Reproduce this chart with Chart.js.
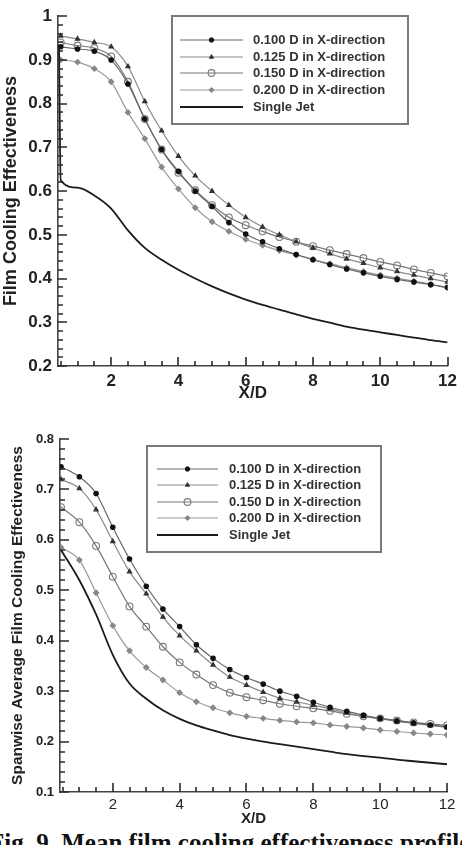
<!DOCTYPE html>
<html>
<head>
<meta charset="utf-8">
<script src="https://cdn.jsdelivr.net/npm/chart.js@4.4.0/dist/chart.umd.min.js"></script>
<style>
  html, body { margin: 0; padding: 0; background: #fff; }
  body { width: 462px; height: 845px; overflow: hidden; position: relative; }
  canvas { position: absolute; left: 0; }
  #topChart { top: 0; }
  #bottomChart { top: 425px; }
  .caption {
    position: absolute; left: -11px; top: 830px; white-space: nowrap;
    font: bold 25px "Liberation Serif", "Times New Roman", serif; line-height: 25px; color: #111;
  }
</style>
</head>
<body>
<canvas id="topChart" width="462" height="405"></canvas>
<canvas id="bottomChart" width="462" height="403"></canvas>
<div class="caption">Fig. 9. Mean film cooling effectiveness profiles</div>
<script>
// ---- data ----
const seriesLabels = ["0.100 D in X-direction", "0.125 D in X-direction", "0.150 D in X-direction", "0.200 D in X-direction", "Single Jet"];
const xTickLabels = [2, 4, 6, 8, 10, 12];
const yTicksTop = [0.2, 0.3, 0.4, 0.5, 0.6, 0.7, 0.8, 0.9, 1.0];
const yTicksBottom = [0.1, 0.2, 0.3, 0.4, 0.5, 0.6, 0.7, 0.8];

// top panel: film cooling effectiveness
const xTop = [0.5, 1, 1.5, 2, 2.5, 3, 3.5, 4, 4.5, 5, 5.5, 6, 6.5, 7, 7.5, 8, 8.5, 9, 9.5, 10, 10.5, 11, 11.5, 12];
const topD100 = [0.930, 0.925, 0.920, 0.900, 0.845, 0.765, 0.695, 0.645, 0.600, 0.565, 0.528, 0.502, 0.484, 0.468, 0.455, 0.443, 0.432, 0.422, 0.413, 0.405, 0.398, 0.392, 0.386, 0.380];
const topD125 = [0.955, 0.948, 0.940, 0.930, 0.885, 0.805, 0.738, 0.680, 0.635, 0.600, 0.568, 0.540, 0.518, 0.500, 0.484, 0.470, 0.457, 0.445, 0.435, 0.425, 0.416, 0.408, 0.400, 0.392];
const topD150 = [0.940, 0.933, 0.927, 0.908, 0.850, 0.765, 0.695, 0.642, 0.602, 0.568, 0.540, 0.522, 0.508, 0.495, 0.484, 0.474, 0.465, 0.456, 0.447, 0.438, 0.430, 0.421, 0.413, 0.405];
const topD200 = [0.900, 0.895, 0.880, 0.850, 0.780, 0.720, 0.655, 0.605, 0.562, 0.530, 0.508, 0.490, 0.476, 0.464, 0.454, 0.444, 0.434, 0.425, 0.416, 0.408, 0.401, 0.394, 0.387, 0.378];
const xTopJet = [0.45, 0.5, 1, 1.5, 2, 2.5, 3, 3.5, 4, 4.5, 5, 5.5, 6, 6.5, 7, 7.5, 8, 8.5, 9, 9.5, 10, 10.5, 11, 11.5, 12];
const topJet = [0.930, 0.625, 0.608, 0.590, 0.560, 0.510, 0.470, 0.443, 0.420, 0.400, 0.382, 0.366, 0.352, 0.340, 0.329, 0.318, 0.308, 0.299, 0.290, 0.283, 0.277, 0.271, 0.265, 0.259, 0.254];

// bottom panel: spanwise average
const xBottom = [0.45, 1, 1.5, 2, 2.5, 3, 3.5, 4, 4.5, 5, 5.5, 6, 6.5, 7, 7.5, 8, 8.5, 9, 9.5, 10, 10.5, 11, 11.5, 12];
const botD100 = [0.745, 0.725, 0.692, 0.625, 0.562, 0.508, 0.463, 0.428, 0.392, 0.365, 0.343, 0.327, 0.314, 0.300, 0.290, 0.278, 0.268, 0.260, 0.252, 0.246, 0.241, 0.237, 0.233, 0.229];
const botD125 = [0.720, 0.702, 0.660, 0.597, 0.537, 0.493, 0.447, 0.410, 0.380, 0.352, 0.328, 0.312, 0.298, 0.286, 0.279, 0.272, 0.265, 0.257, 0.250, 0.245, 0.240, 0.236, 0.232, 0.228];
const botD150 = [0.665, 0.635, 0.588, 0.527, 0.468, 0.428, 0.388, 0.357, 0.333, 0.312, 0.297, 0.288, 0.282, 0.275, 0.270, 0.266, 0.261, 0.255, 0.250, 0.246, 0.242, 0.238, 0.235, 0.232];
const botD200 = [0.585, 0.560, 0.495, 0.430, 0.380, 0.347, 0.322, 0.297, 0.279, 0.267, 0.257, 0.250, 0.246, 0.242, 0.239, 0.237, 0.233, 0.230, 0.227, 0.223, 0.220, 0.217, 0.215, 0.213];
const botJet = [0.580, 0.520, 0.452, 0.372, 0.315, 0.285, 0.262, 0.245, 0.232, 0.222, 0.213, 0.206, 0.200, 0.195, 0.190, 0.185, 0.180, 0.175, 0.171, 0.168, 0.164, 0.161, 0.158, 0.155];

const FONT = '"Liberation Sans", Arial, sans-serif';
const X_MINOR = 0.5, X_MAJOR = 2, Y_MINOR = 0.02, Y_MAJOR = 0.1;
const pts = (xs, ys) => xs.map((x, i) => ({ x: x, y: ys[i] }));

// series styles (line colour, marker)
const styles = [
  { borderColor: "#666", borderWidth: 1.2, pointStyle: "circle", pointRadius: 2.2, pointBackgroundColor: "#111", pointBorderColor: "#111" },
  { borderColor: "#8a8a8a", borderWidth: 1.2, pointStyle: "triangle", pointRadius: 2.4, pointBackgroundColor: "#333", pointBorderColor: "#333" },
  { borderColor: "#777", borderWidth: 1.2, pointStyle: "circle", pointRadius: 3.4, pointBackgroundColor: "rgba(255,255,255,0)", pointBorderColor: "#777", pointBorderWidth: 1.1 },
  { borderColor: "#9a9a9a", borderWidth: 1.2, pointStyle: "rectRot", pointRadius: 2.6, pointBackgroundColor: "#888", pointBorderColor: "#888" },
  { borderColor: "#1c1c1c", borderWidth: 1.8, pointStyle: "circle", pointRadius: 0, pointBackgroundColor: "#1c1c1c", pointBorderColor: "#1c1c1c" }
];

// tick marks pointing into the plot, major + minor
const inwardTicks = {
  id: "inwardTicks",
  afterDraw(chart) {
    const ctx = chart.ctx;
    const area = chart.chartArea;
    const x = chart.scales.x, y = chart.scales.y;
    ctx.save();
    ctx.strokeStyle = "#2a2a2a";
    ctx.lineWidth = 1.6;
    ctx.beginPath();
    for (let k = Math.ceil(x.min / X_MINOR); k * X_MINOR <= x.max + 1e-9; k++) {
      const v = k * X_MINOR;
      const px = Math.round(x.getPixelForValue(v));
      const major = Math.abs(v / X_MAJOR - Math.round(v / X_MAJOR)) < 1e-6;
      ctx.moveTo(px, area.bottom);
      ctx.lineTo(px, area.bottom - (major ? 9 : 5));
    }
    for (let k = Math.ceil(y.min / Y_MINOR - 1e-6); k * Y_MINOR <= y.max + 1e-9; k++) {
      const v = k * Y_MINOR;
      const py = Math.round(y.getPixelForValue(v));
      const major = Math.abs(v / Y_MAJOR - Math.round(v / Y_MAJOR)) < 1e-6;
      ctx.moveTo(area.left, py);
      ctx.lineTo(area.left + (major ? 9 : 5), py);
    }
    ctx.stroke();
    ctx.restore();
  }
};

const boxLegend = {
  id: "boxLegend",
  afterDraw(chart, args, o) {
    const { ctx } = chart;
    const [x0, y0, x1, y1] = o.box;
    ctx.save();
    ctx.strokeStyle = "#7a7a7a";
    ctx.lineWidth = 2;
    ctx.strokeRect(x0, y0, x1 - x0, y1 - y0);
    chart.data.datasets.forEach((ds, i) => {
      const ry = o.rowY[i];
      ctx.strokeStyle = ds.borderColor;
      ctx.lineWidth = ds.borderWidth;
      ctx.beginPath();
      ctx.moveTo(o.lineX[0], ry);
      ctx.lineTo(o.lineX[1], ry);
      ctx.stroke();
      if (ds.pointRadius > 0) {
        ctx.fillStyle = ds.pointBackgroundColor;
        ctx.strokeStyle = ds.pointBorderColor;
        ctx.lineWidth = ds.pointBorderWidth || 1;
        Chart.helpers.drawPoint(ctx, { pointStyle: ds.pointStyle, radius: ds.pointRadius, borderWidth: ds.pointBorderWidth || 1 }, (o.lineX[0] + o.lineX[1]) / 2, ry);
      }
      ctx.fillStyle = "#333";
      ctx.font = "bold 13px " + FONT;
      ctx.textBaseline = "middle";
      ctx.textAlign = "left";
      ctx.fillText(ds.label, o.textX, ry + 0.5);
    });
    ctx.restore();
  }
};

function makeChart(id, series, cfg) {
  const datasets = series.map((s, i) => Object.assign({
    label: seriesLabels[i],
    data: s,
    fill: false,
    cubicInterpolationMode: "monotone",
    order: i === 4 ? 0 : 1
  }, styles[i]));

  return new Chart(document.getElementById(id), {
    type: "line",
    data: { datasets: datasets },
    plugins: [inwardTicks, boxLegend],
    options: {
      responsive: false,
      devicePixelRatio: 1,
      animation: false,
      layout: { padding: { top: cfg.padTop, right: cfg.padRight, left: 0, bottom: 0 } },
      plugins: {
        legend: { display: false },
        tooltip: { enabled: false },
        boxLegend: cfg.legend
      },
      scales: {
        x: {
          type: "linear",
          min: 0.42,
          max: 12,
          afterBuildTicks: sc => { sc.ticks = xTickLabels.map(v => ({ value: v })); },
          afterFit: sc => { sc.height = cfg.xHeight; },
          grid: { display: false, drawTicks: false },
          border: { display: true, color: "#444", width: 1.6 },
          ticks: { padding: cfg.xTickPad, color: "#222", font: cfg.xTickFont, maxRotation: 0, autoSkip: false },
          title: { display: true, text: "X/D", color: "#222", font: cfg.xTitleFont, padding: { top: 0, bottom: cfg.xTitlePad } }
        },
        y: {
          min: cfg.yTicks[0],
          max: cfg.yTicks[cfg.yTicks.length - 1],
          afterBuildTicks: sc => { sc.ticks = cfg.yTicks.map(v => ({ value: v })); },
          afterFit: sc => { sc.width = cfg.yWidth; },
          grid: { display: false, drawTicks: false },
          border: { display: true, color: "#444", width: 1.6 },
          ticks: { padding: 6, color: "#222", font: cfg.yTickFont, callback: v => String(Math.round(v * 10) / 10), autoSkip: false },
          title: { display: true, text: cfg.yTitle, color: "#222", font: cfg.yTitleFont, padding: { top: cfg.yTitlePad, bottom: 0 } }
        }
      }
    }
  });
}

makeChart("topChart",
  [pts(xTop, topD100), pts(xTop, topD125), pts(xTop, topD150), pts(xTop, topD200), pts(xTopJet, topJet)],
  {
    padTop: 10, padRight: 12, xHeight: 39, yWidth: 58,
    yTicks: yTicksTop,
    xTickPad: 5, xTitlePad: 1,
    xTickFont: { family: FONT, size: 17, weight: "bold" },
    xTitleFont: { family: FONT, size: 17, weight: "bold" },
    yTickFont: { family: FONT, size: 17, weight: "bold" },
    yTitle: "Film Cooling Effectiveness",
    yTitleFont: { family: FONT, size: 18, weight: "bold" },
    yTitlePad: 0,
    legend: { box: [172, 16, 408, 124], lineX: [180, 243], textX: 253, rowY: [40, 57, 73, 90, 107] }
  });

makeChart("bottomChart",
  [pts(xBottom, botD100), pts(xBottom, botD125), pts(xBottom, botD150), pts(xBottom, botD200), pts(xBottom, botJet)],
  {
    padTop: 14, padRight: 15, xHeight: 36, yWidth: 60,
    yTicks: yTicksBottom,
    xTickPad: 4, xTitlePad: 0,
    xTickFont: { family: FONT, size: 15, weight: "normal" },
    xTitleFont: { family: FONT, size: 15, weight: "bold" },
    yTickFont: { family: FONT, size: 13, weight: "bold" },
    yTitle: "Spanwise Average Film Cooling Effectiveness",
    yTitleFont: { family: FONT, size: 15.5, weight: "bold" },
    yTitlePad: 8.5,
    legend: { box: [147, 21, 381, 127], lineX: [157, 218], textX: 229, rowY: [44, 60, 77, 93, 110] }
  });
</script>
</body>
</html>
